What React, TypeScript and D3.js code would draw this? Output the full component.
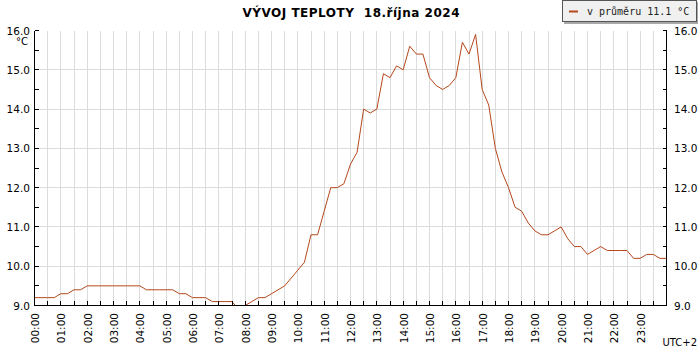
import React from "react";
import * as d3 from "d3";

// Temperature every 15 minutes, 00:00 .. 24:00 (°C)
const temps = [
  9.2, 9.2, 9.2, 9.2, 9.3, 9.3, 9.4, 9.4, // 00:00-01:45
  9.5, 9.5, 9.5, 9.5, 9.5, 9.5, 9.5, 9.5, // 02:00-03:45
  9.5, 9.4, 9.4, 9.4, 9.4, 9.4, 9.3, 9.3, // 04:00-05:45
  9.2, 9.2, 9.2, 9.1, 9.1, 9.1, 9.1, 8.9, // 06:00-07:45
  9.0, 9.1, 9.2, 9.2, 9.3, 9.4, 9.5, 9.7, // 08:00-09:45
  9.9, 10.1, 10.8, 10.8, 11.4, 12.0, 12.0, 12.1, // 10:00-11:45
  12.6, 12.9, 14.0, 13.9, 14.0, 14.9, 14.8, 15.1, // 12:00-13:45
  15.0, 15.6, 15.4, 15.4, 14.8, 14.6, 14.5, 14.6, // 14:00-15:45
  14.8, 15.7, 15.4, 15.9, 14.5, 14.1, 13.0, 12.4, // 16:00-17:45
  12.0, 11.5, 11.4, 11.1, 10.9, 10.8, 10.8, 10.9, // 18:00-19:45
  11.0, 10.7, 10.5, 10.5, 10.3, 10.4, 10.5, 10.4, // 20:00-21:45
  10.4, 10.4, 10.4, 10.2, 10.2, 10.3, 10.3, 10.2, // 22:00-23:45
  10.2, // 24:00
];
const stepMinutes = 15;

const hourLabels = [
  "00:00", "01:00", "02:00", "03:00", "04:00", "05:00", "06:00", "07:00",
  "08:00", "09:00", "10:00", "11:00", "12:00", "13:00", "14:00", "15:00",
  "16:00", "17:00", "18:00", "19:00", "20:00", "21:00", "22:00", "23:00",
];
const yTickValues = [9, 10, 11, 12, 13, 14, 15, 16];
const yMinorValues = [9.5, 10.5, 11.5, 12.5, 13.5, 14.5, 15.5];

const title = "VÝVOJ TEPLOTY  18.října 2024";
const legendLabel = "v průměru 11.1 °C";
const unitLabel = "°C";
const tzLabel = "UTC+2";

const LINE_COLOR = "#b5471b";
const GRID = "#dcdcdc";
const FONT = "'DejaVu Sans', Verdana, sans-serif";

export default function App() {
  const left = 34.5, right = 666.5, top = 30.5, bottom = 305.5;
  const x = d3.scaleLinear().domain([0, 24]).range([left, right]);
  const y = d3.scaleLinear().domain([9, 16]).range([bottom, top]);

  const points = temps.map((v, i) => ({ t: (i * stepMinutes) / 60, v }));
  const line = d3
    .line<{ t: number; v: number }>()
    .x((d) => x(d.t))
    .y((d) => y(d.v));

  const halfHours = d3.range(0, 24.001, 0.5);

  return (
    <svg
      width={700}
      height={350}
      style={{ position: "absolute", left: 0, top: 0, background: "#fff" }}
      fontFamily={FONT}
    >
      <defs>
        <clipPath id="plotClip">
          <rect x={left} y={top - 1} width={right - left} height={bottom - top + 0.5} />
        </clipPath>
      </defs>

      {/* grid */}
      <g shapeRendering="crispEdges" stroke={GRID} strokeWidth={1}>
        {halfHours
          .filter((h) => h > 0 && h < 24)
          .map((h) => (
            <line key={"vg" + h} x1={x(h)} x2={x(h)} y1={top} y2={bottom} />
          ))}
        {yTickValues
          .filter((v) => v > 9 && v < 16)
          .map((v) => (
            <line key={"hg" + v} x1={left} x2={right} y1={y(v)} y2={y(v)} />
          ))}
      </g>

      {/* data line */}
      <path
        d={line(points) || ""}
        fill="none"
        stroke={LINE_COLOR}
        strokeWidth={1}
        clipPath="url(#plotClip)"
      />

      {/* axes */}
      <g shapeRendering="crispEdges" stroke="#000" strokeWidth={1}>
        <line x1={left} x2={left} y1={top} y2={bottom} />
        <line x1={right} x2={right} y1={top} y2={bottom} />
        <line x1={left} x2={right} y1={bottom} y2={bottom} />
        {[...yTickValues, ...yMinorValues].map((v) => (
          <g key={"yt" + v}>
            <line x1={left} x2={left + 4} y1={y(v)} y2={y(v)} />
            <line x1={right - 4} x2={right} y1={y(v)} y2={y(v)} />
          </g>
        ))}
        {halfHours.map((h) => (
          <line key={"xt" + h} x1={x(h)} x2={x(h)} y1={bottom} y2={bottom - 5} />
        ))}
      </g>

      {/* y labels */}
      <g fontSize={10.5} fill="#000">
        {yTickValues.map((v) => (
          <g key={"yl" + v}>
            <text x={30} y={y(v) + 4} textAnchor="end">
              {v.toFixed(1)}
            </text>
            <text x={674} y={y(v) + 4} textAnchor="start">
              {v.toFixed(1)}
            </text>
          </g>
        ))}
        <text x={28} y={45} textAnchor="end" fontSize={10}>
          {unitLabel}
        </text>
      </g>

      {/* x labels */}
      <g fontSize={10.5} fill="#000">
        {hourLabels.map((lab, i) => (
          <text
            key={lab}
            transform={`translate(${x(i) + 4.5},${313}) rotate(-90)`}
            textAnchor="end"
          >
            {lab}
          </text>
        ))}
        <text x={697} y={346} textAnchor="end" fontSize={10}>
          {tzLabel}
        </text>
      </g>

      {/* title */}
      <text
        x={351}
        y={17}
        textAnchor="middle"
        fontWeight="bold"
        fontSize={12}
        style={{ whiteSpace: "pre" }}
        textLength={217}
        lengthAdjust="spacing"
      >
        {title}
      </text>

      {/* legend */}
      <g>
        <rect x={564} y={2} width={134} height={22} fill="#a8a8a8" />
        <rect x={562.5} y={0.5} width={134} height={21} fill="#f0f0f0" stroke="#555" />
        <line x1={569} x2={578} y1={11.5} y2={11.5} stroke={LINE_COLOR} strokeWidth={2} />
        <text
          x={587}
          y={15}
          fontFamily="'DejaVu Sans Mono', monospace"
          fontSize={10}
          fill="#222"
        >
          {legendLabel}
        </text>
      </g>
    </svg>
  );
}
